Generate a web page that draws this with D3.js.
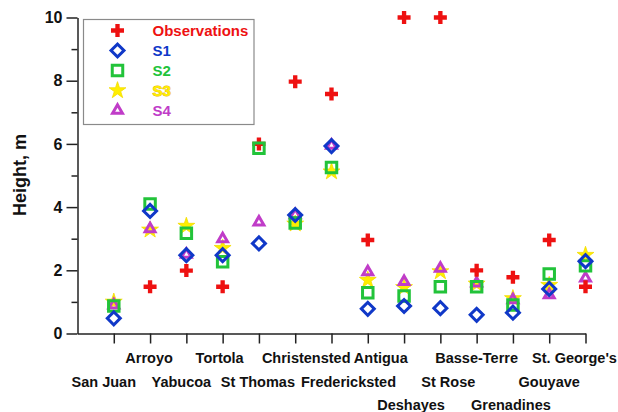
<!DOCTYPE html>
<html>
<head>
<meta charset="utf-8">
<script src="https://cdn.jsdelivr.net/npm/d3@7"></script>
<style>
  html, body { margin: 0; padding: 0; background: #fff; }
  svg { display: block; font-family: "Liberation Sans", Arial, sans-serif; font-weight: bold; }
</style>
</head>
<body>
<svg id="chart" width="618" height="412"></svg>
<script>
// Stations along the x axis
const categories = ["San Juan", "Arroyo", "Yabucoa", "Tortola", "St Thomas", "Christensted",
  "Fredericksted", "Antigua", "Deshayes", "St Rose", "Basse-Terre", "Grenadines", "Gouyave", "St. George's"];

// Wave heights (m); null = no value at that station
const observations = [null, 1.48, 1.99, 1.48, 6.0, 7.97, 7.58, 2.96, 10.0, 10.0, 2.0, 1.78, 2.96, 1.48];
const s1 = [0.48, 3.88, 2.48, 2.48, 2.85, 3.75, 5.93, 0.78, 0.87, 0.80, 0.59, 0.66, 1.41, 2.29];
const s2 = [0.87, 4.10, 3.17, 2.27, 5.86, 3.50, 5.25, 1.29, 1.19, 1.48, 1.48, 0.90, 1.88, 2.14];
const s3 = [1.00, 3.28, 3.40, 2.70, null, 3.47, 5.12, 1.69, 1.46, 1.96, 1.57, 1.11, 1.53, 2.48];
const s4 = [0.90, 3.31, 2.50, 2.99, 3.52, 3.75, 5.95, 1.95, 1.64, 2.06, 1.59, 1.06, 1.22, 1.75];

const yMajorTicks = [0, 2, 4, 6, 8, 10];
const yMinorTicks = [1, 3, 5, 7, 9];
const yTitle = "Height, m";

// ---- layout ----
const svg = d3.select("#chart");
const x = d3.scaleLinear().domain([-1, 13]).range([77.5, 585.5]);
const y = d3.scaleLinear().domain([0, 10]).range([333.5, 17.5]);

// station labels are staggered in rows so they don't collide
const labelRow = [1, 0, 1, 0, 1, 0, 1, 0, 2, 1, 0, 2, 1, 0];
const labelNudge = [-10, -1, -5, -3, -1, 11, 17, 13, 7, 8, 0, -2, 0, -11];
const rowBaseline = [362.5, 386.5, 410];

const axisColor = "#222";

// y axis
const yAxis = svg.append("g").attr("transform", `translate(${x(-1)},0)`);
yAxis.call(d3.axisLeft(y).tickValues(yMajorTicks).tickSize(11).tickSizeOuter(0).tickFormat(d3.format("d")));
const yMinor = svg.append("g").attr("transform", `translate(${x(-1)},0)`);
yMinor.call(d3.axisLeft(y).tickValues(yMinorTicks).tickSize(6).tickSizeOuter(0).tickFormat(""));
yMinor.select(".domain").remove();
[yAxis, yMinor].forEach(g => {
  g.selectAll("line").attr("stroke", axisColor).attr("stroke-width", 1.5);
  g.selectAll(".domain").attr("stroke", axisColor).attr("stroke-width", 1.5);
});
yAxis.selectAll("text")
  .attr("x", -15)
  .attr("fill", "#111")
  .style("font-size", "16px")
  .style("font-weight", "bold")
  .style("font-family", "'Liberation Sans', Arial, sans-serif");

// x axis
const xAxis = svg.append("g").attr("transform", `translate(0,${y(0)})`);
xAxis.call(d3.axisBottom(x).tickValues(d3.range(categories.length)).tickSize(10).tickSizeOuter(0).tickFormat(""));
xAxis.selectAll("line").attr("stroke", axisColor).attr("stroke-width", 1.5);
xAxis.select(".domain").attr("stroke", axisColor).attr("stroke-width", 1.5);

svg.append("g").selectAll("text")
  .data(categories)
  .join("text")
  .attr("x", (d, i) => x(i) + labelNudge[i])
  .attr("y", (d, i) => rowBaseline[labelRow[i]])
  .attr("text-anchor", "middle")
  .attr("fill", "#111")
  .style("font-size", "14.5px")
  .text(d => d);

// y title
svg.append("text")
  .attr("transform", "translate(26,175) rotate(-90)")
  .attr("text-anchor", "middle")
  .attr("fill", "#111")
  .style("font-size", "18px")
  .text(yTitle);

// ---- series styling ----
const red = "#ee1111", blue = "#1038c8", green = "#22c33a", yellow = "#ffee00", magenta = "#c03cc8";

const diamondPath = d3.symbol(d3.symbolSquare, 84)();
const series = {
  obs: { name: "Observations", values: observations, path: d3.symbol(d3.symbolCross, 94)(), fill: red, stroke: "none", sw: 0, rot: 0, color: red },
  s1:  { name: "S1", values: s1, path: diamondPath, fill: "none", stroke: blue, sw: 3, rot: 45, color: blue },
  s2:  { name: "S2", values: s2, path: d3.symbol(d3.symbolSquare, 110)(), fill: "none", stroke: green, sw: 3, rot: 0, color: green },
  s3:  { name: "S3", values: s3, path: d3.symbol(d3.symbolStar, 88)(), fill: yellow, stroke: "#f2dc00", sw: 0.8, rot: 0, color: yellow },
  s4:  { name: "S4", values: s4, path: d3.symbol(d3.symbolTriangle, 42)(), fill: "none", stroke: magenta, sw: 3, rot: 0, color: magenta }
};

// stacking order of the markers
const drawOrder = ["s3", "s4", "obs", "s2", "s1"];
const plot = svg.append("g");
drawOrder.forEach(key => {
  const s = series[key];
  plot.append("g").selectAll("path")
    .data(s.values.map((v, i) => ({ i, v })).filter(d => d.v != null))
    .join("path")
    .attr("d", s.path)
    .attr("transform", d => `translate(${x(d.i)},${y(d.v)}) rotate(${s.rot})`)
    .attr("fill", s.fill)
    .attr("stroke", s.stroke)
    .attr("stroke-width", s.sw)
    .attr("stroke-linejoin", "miter");
});

// ---- legend ----
const legendKeys = ["obs", "s1", "s2", "s3", "s4"];
const legend = svg.append("g");
legend.append("rect")
  .attr("x", 83.5).attr("y", 19.5).attr("width", 170.5).attr("height", 105)
  .attr("fill", "#fff").attr("stroke", "#8a8a8a").attr("stroke-width", 1.2);
legendKeys.forEach((key, k) => {
  const s = series[key];
  const cy = 30.5 + k * 20;
  legend.append("path")
    .attr("d", s.path)
    .attr("transform", `translate(117.5,${cy}) rotate(${s.rot})`)
    .attr("fill", s.fill)
    .attr("stroke", s.stroke)
    .attr("stroke-width", s.sw);
  const t = legend.append("text")
    .attr("x", 152.5).attr("y", cy + 5.5)
    .attr("fill", s.color)
    .style("font-size", "15px")
    .text(s.name);
  if (key === "s3") t.attr("stroke", "#e8b400").attr("stroke-width", 0.9).attr("paint-order", "stroke");
});
</script>
</body>
</html>
